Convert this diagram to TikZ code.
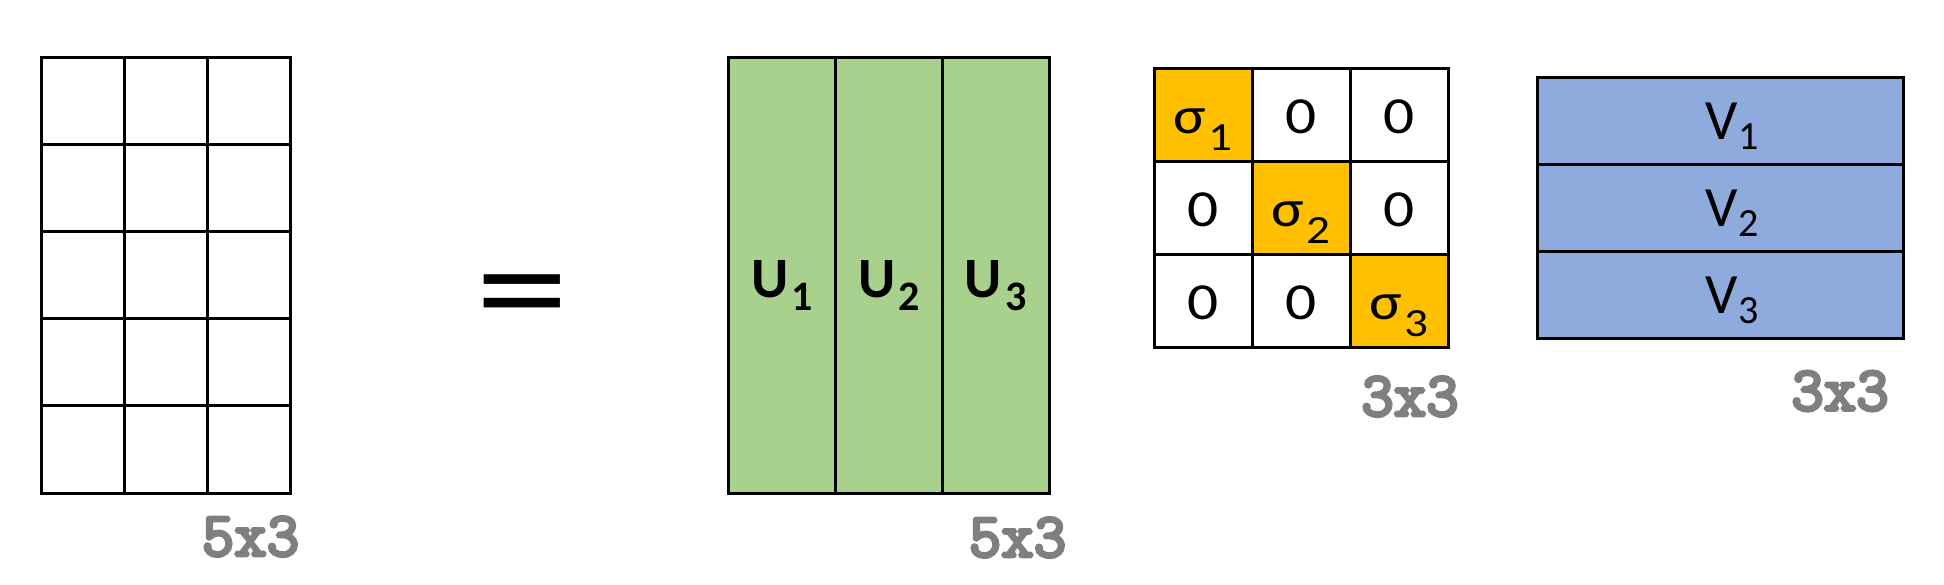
\documentclass[tikz,border=0pt]{standalone}
\usepackage{fontspec}
\setmainfont{Carlito}
\newfontfamily\labfont{Latin Modern Mono}[FakeBold=5]
\definecolor{ugreen}{HTML}{A9D18E}
\definecolor{sorange}{HTML}{FFC000}
\definecolor{vblue}{HTML}{8FAADC}
\definecolor{lgray}{HTML}{7F7F7F}
\newcommand{\sbs}[1]{\hspace{1pt}\raisebox{-8.5pt}{\fontsize{20pt}{20pt}\selectfont #1}}
\newcommand{\sbv}[1]{\hspace{0.5pt}\raisebox{-5pt}{\fontsize{20pt}{20pt}\selectfont #1}}
\newcommand{\sbu}[1]{\hspace{1.5pt}\raisebox{-6.5pt}{\fontsize{21pt}{21pt}\selectfont\bfseries #1}}
\newcommand{\wide}[1]{\scalebox{1.18}[1]{#1}}
\tikzset{
  cell/.style={draw=black, line width=1.5pt, inner sep=0pt, fill=white},
  gcell/.style={cell, minimum width=41.33pt, minimum height=43.6pt},
  ucell/.style={cell, fill=ugreen, minimum width=53.33pt, minimum height=218pt,
    font=\fontsize{28.5pt}{30pt}\selectfont\bfseries, text height=30pt, text depth=8pt},
  scell/.style={cell, minimum width=49pt, minimum height=46.67pt,
    font=\fontsize{26pt}{28pt}\selectfont, text height=26pt, text depth=7.5pt},
  vcell/.style={cell, fill=vblue, minimum width=183pt, minimum height=43.33pt,
    font=\fontsize{28.5pt}{30pt}\selectfont, text height=26pt, text depth=7.5pt},
  dimlab/.style={inner sep=0pt, text=lgray, font=\labfont\fontsize{31.5pt}{32pt}\selectfont},
}
\begin{document}
\begin{tikzpicture}[x=0.5pt, y=-0.5pt]
\useasboundingbox (0,0) rectangle (1944,584);
% left 5x3 grid
\foreach \i/\cx in {1/83.3, 2/166, 3/248.7}{
  \foreach \j/\cy in {1/100.6, 2/187.8, 3/275, 4/362.2, 5/449.4}{
    \node[gcell] (g-\j-\i) at (\cx,\cy) {};
  }
}
\node[dimlab] (lab-a) at (250.5,536.5) {5x3};
% equals
\node[inner sep=0pt, font=\fontsize{94pt}{94pt}\selectfont] (eq) at (522,307) {\scalebox{1}[0.79]{=}};
% U
\node[ucell] (u1) at (782.3,275) {U\sbu{1}};
\node[ucell] (u2) at (889,275) {U\sbu{2}};
\node[ucell] (u3) at (995.7,275) {U\sbu{3}};
\node[dimlab] (lab-u) at (1017.5,537.5) {5x3};
% Sigma
\node[scell, fill=sorange] (s11) at (1203,114.7) {\wide{σ\sbs{1}}};
\node[scell] (s12) at (1301,114.7) {\wide{0}};
\node[scell] (s13) at (1399,114.7) {\wide{0}};
\node[scell] (s21) at (1203,208) {\wide{0}};
\node[scell, fill=sorange] (s22) at (1301,208) {\wide{σ\sbs{2}}};
\node[scell] (s23) at (1399,208) {\wide{0}};
\node[scell] (s31) at (1203,301.3) {\wide{0}};
\node[scell] (s32) at (1301,301.3) {\wide{0}};
\node[scell, fill=sorange] (s33) at (1399,301.3) {\wide{σ\sbs{3}}};
\node[dimlab] (lab-s) at (1410,396.5) {3x3};
% V
\node[vcell] (v1) at (1720,121.3) {\hspace{12pt}V\sbv{1}};
\node[vcell] (v2) at (1720,208) {\hspace{12pt}V\sbv{2}};
\node[vcell] (v3) at (1720,294.7) {\hspace{12pt}V\sbv{3}};
\node[dimlab] (lab-v) at (1840,391) {3x3};
\end{tikzpicture}
\end{document}
